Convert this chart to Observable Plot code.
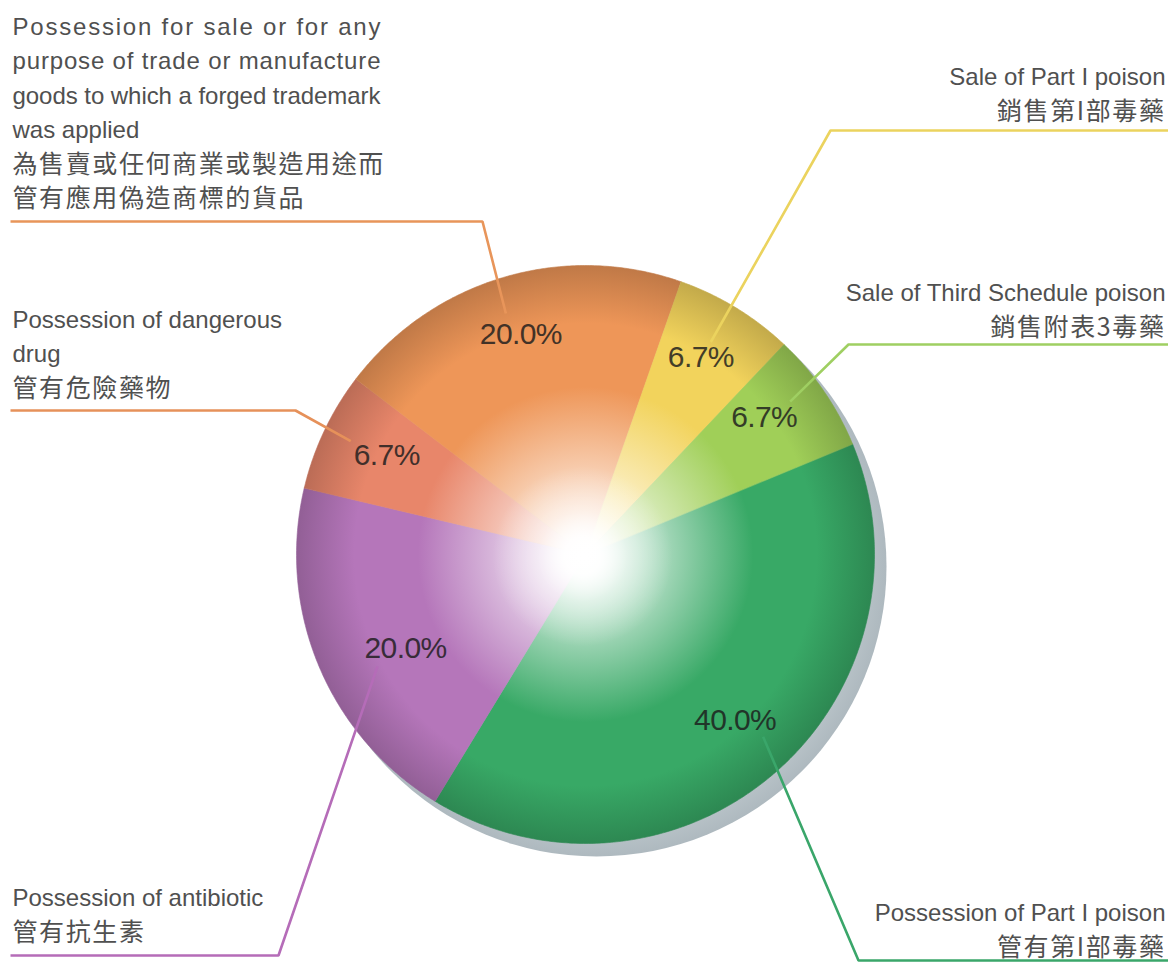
<!DOCTYPE html>
<html><head><meta charset="utf-8">
<script src="https://cdn.jsdelivr.net/npm/d3@7"></script>
<script src="https://cdn.jsdelivr.net/npm/@observablehq/plot@0.6"></script>
<style>body{margin:0;background:#fff;}</style>
</head><body><div id="chart"></div>
<script>
// ---------- DATA ----------
const categories = [
  "Possession of Part I poison",
  "Possession of antibiotic",
  "Possession of dangerous drug",
  "Possession for sale or for any purpose of trade or manufacture goods to which a forged trademark was applied",
  "Sale of Part I poison",
  "Sale of Third Schedule poison"
];
const values = [40.0, 20.0, 6.7, 20.0, 6.7, 6.7];
const labelsEn = [
  ["Possession of Part I poison"],
  ["Possession of antibiotic"],
  ["Possession of dangerous", "drug"],
  ["Possession for sale or for any", "purpose of trade or manufacture", "goods to which a forged trademark", "was applied"],
  ["Sale of Part I poison"],
  ["Sale of Third Schedule poison"]
];
const labelsZh = [
  ["管有第I部毒藥"],
  ["管有抗生素"],
  ["管有危險藥物"],
  ["為售賣或任何商業或製造用途而", "管有應用偽造商標的貨品"],
  ["銷售第I部毒藥"],
  ["銷售附表3毒藥"]
];
const colors = ["#38a966", "#b576ba", "#e8866a", "#ee9658", "#f2d35c", "#a0cf58"];
const lineColors = ["#3aa66a", "#b56cb8", "#e6915a", "#e8955a", "#ebd35e", "#9fcf62"];

// ---------- LAYOUT ----------
const W = 1168, H = 963, CX = 585, CY = 554, R = 289;
const START = 67.5 * Math.PI / 180;
const LH = 34.3;
const layout = [
  {side: "right", y0: 913, elbow: [858, 960], end: 1168, off: [28, 16], nudge: [3, -5]},
  {side: "left",  y0: 898, elbow: [278, 955], end: 10,   off: [-28, 18], nudge: [28, 7]},
  {side: "left",  y0: 320, elbow: [295, 410], end: 10,   off: [-36, -14], nudge: [5, -3]},
  {side: "left",  y0: 27,  elbow: [482, 221], end: 10,   off: [-15, -21], nudge: [0, -4]},
  {side: "right", y0: 77,  elbow: [830, 130], end: 1168, off: [10, -15], nudge: [-2, -5]},
  {side: "right", y0: 293, elbow: [848, 344], end: 1168, off: [26, -16], nudge: [-7, -9]}
];

// ---------- GEOMETRY FROM DATA ----------
const arcs = d3.pie().sort(null).startAngle(START).endAngle(START + 2 * Math.PI)(values);
const pt = (a, r) => [CX + r * Math.sin(a), CY - r * Math.cos(a)];
const slices = arcs.map((a, i) => {
  const pts = [[CX, CY]];
  const n = Math.max(8, Math.ceil((a.endAngle - a.startAngle) / (0.5 * Math.PI / 180)));
  for (let k = 0; k <= n; k++) pts.push(pt(a.startAngle + (a.endAngle - a.startAngle) * k / n, R));
  return pts.map(([x, y]) => ({x, y, i}));
});
const pctLabels = arcs.map((a, i) => {
  const m = (a.startAngle + a.endAngle) / 2;
  const [x, y] = pt(m, R * 0.78);
  return {x: x + layout[i].nudge[0], y: y + layout[i].nudge[1], text: d3.format(".1f")(values[i]) + "%", i};
});
const leaders = pctLabels.map((p, i) => {
  const L = layout[i];
  return [
    {x: p.x + L.off[0], y: p.y + L.off[1]},
    {x: L.elbow[0], y: L.elbow[1]},
    {x: L.end, y: L.elbow[1]}
  ];
});
const legendRows = [];
labelsEn.forEach((lines, i) => {
  const L = layout[i];
  const x = L.side === "left" ? 12 : 1165;
  lines.forEach((t, k) => legendRows.push({x, y: L.y0 + k * LH, text: t, side: L.side, zh: false}));
  labelsZh[i].forEach((t, k) => legendRows.push({x, y: L.y0 + (lines.length + k) * LH, text: t, side: L.side, zh: true}));
});
const justify = new Set(labelsEn[3].slice(0, 3));
const zhSet = new Set(labelsZh.flat());
const pctSet = new Set(pctLabels.map(d => d.text));

const EN = "'Liberation Sans', Arial, Helvetica, sans-serif";
const ZH = "'Noto Sans CJK TC', 'Noto Sans CJK SC', sans-serif";
const textFill = "#505050";

const plot = Plot.plot({
  width: W, height: H, margin: 0,
  x: {domain: [0, W], range: [0, W], axis: null},
  y: {domain: [0, H], range: [0, H], axis: null},
  style: {background: "#fff", overflow: "visible"},
  marks: [
    Plot.dot([{x: CX + 11, y: CY + 12}], {x: "x", y: "y", r: R + 1, fill: "url(#shadowGrad)", stroke: "none"}),
    ...slices.map((s, i) => Plot.line(s, {x: "x", y: "y", curve: "linear-closed", fill: `url(#slice${i})`, stroke: `url(#slice${i})`, strokeWidth: 0.6})),
    Plot.dot([{x: CX - 3, y: CY + 2}], {x: "x", y: "y", r: 90, fill: "url(#glare)", stroke: "none"}),
    ...leaders.map((l, i) => Plot.line(l, {x: "x", y: "y", stroke: lineColors[i], strokeWidth: 2.6, strokeLinecap: "butt", strokeLinejoin: "miter"})),
    Plot.text(pctLabels, {x: "x", y: "y", text: "text", fontSize: 30, fontFamily: EN,
      fill: d => d3.interpolateRgb(colors[d.i], "#1c1c1c")(0.82), textAnchor: "middle", lineAnchor: "middle"}),
    Plot.text(legendRows.filter(d => d.side === "left" && !d.zh), {x: "x", y: "y", text: "text", textAnchor: "start", lineAnchor: "middle", fontSize: 24, fontFamily: EN, fill: textFill}),
    Plot.text(legendRows.filter(d => d.side === "right" && !d.zh), {x: "x", y: "y", text: "text", textAnchor: "end", lineAnchor: "middle", fontSize: 24, fontFamily: EN, fill: textFill}),
    Plot.text(legendRows.filter(d => d.side === "left" && d.zh), {x: "x", y: "y", text: "text", textAnchor: "start", lineAnchor: "middle", fontSize: 25, fontFamily: ZH, fill: textFill}),
    Plot.text(legendRows.filter(d => d.side === "right" && d.zh), {x: "x", y: "y", text: "text", textAnchor: "end", lineAnchor: "middle", fontSize: 25, fontFamily: ZH, fill: textFill})
  ]
});

// gradients (user space, centred on the pie)
const svg = d3.select(plot);
const defs = svg.insert("defs", ":first-child");
const px = plot.scale("x").apply(CX), py = plot.scale("y").apply(CY);
colors.forEach((c, i) => {
  const g = defs.append("radialGradient").attr("id", `slice${i}`)
    .attr("gradientUnits", "userSpaceOnUse").attr("cx", px).attr("cy", py).attr("r", R);
  const mix = t => d3.interpolateRgb("#ffffff", c)(t);
  [[0, "#ffffff"], [0.07, mix(0.12)], [0.3, mix(0.5)], [0.58, c], [0.8, c], [1, d3.color(c).darker(0.6).formatHex()]]
    .forEach(([o, col]) => g.append("stop").attr("offset", o).attr("stop-color", col));
});
const sg = defs.append("radialGradient").attr("id", "shadowGrad");
[[0, "#c8d0d4"], [0.9, "#bcc6cb"], [1, "#aeb9bf"]].forEach(([o, col]) => sg.append("stop").attr("offset", o).attr("stop-color", col));
const gl = defs.append("radialGradient").attr("id", "glare");
[[0, 1], [0.2, 0.95], [0.5, 0.45], [1, 0]].forEach(([o, op]) => gl.append("stop").attr("offset", o).attr("stop-color", "#fff").attr("stop-opacity", op));

// text styling Plot lacks: justification and letter spacing
svg.selectAll("text").filter(function() { return justify.has(this.textContent); })
  .attr("textLength", 368).attr("lengthAdjust", "spacing");
svg.selectAll("text").filter(function() { return zhSet.has(this.textContent); })
  .style("letter-spacing", "1.6px");
svg.selectAll("text").filter(function() { return pctSet.has(this.textContent); })
  .style("letter-spacing", "-0.6px");

document.getElementById("chart").appendChild(plot);
</script>
</body></html>
